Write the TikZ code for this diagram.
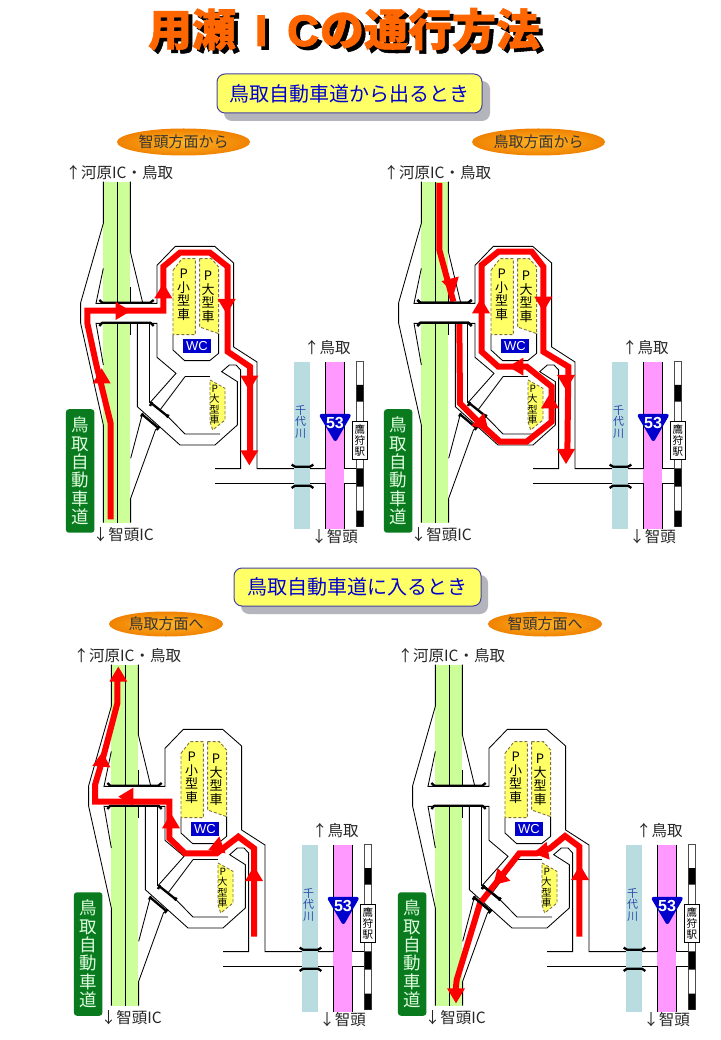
\documentclass[tikz,border=0pt]{standalone}
\usepackage{fontspec}
\setmainfont{Noto Sans CJK JP}
\newfontfamily\latinf{Liberation Sans}
\newfontfamily\latint{Liberation Sans}[BoldFeatures={FakeBold=2.5}]
\newfontfamily\titlef{Noto Sans CJK JP}[BoldFeatures={FakeBold=1.2}]
\usetikzlibrary{shapes.geometric}
\definecolor{hwgreen}{HTML}{CCFF99}
\definecolor{rivercol}{HTML}{B8DCE0}
\definecolor{pinkroad}{HTML}{FF99FF}
\definecolor{parkyel}{HTML}{FFFF66}
\definecolor{dashgray}{HTML}{807040}
\definecolor{routered}{HTML}{FF0000}
\definecolor{dkgreen}{HTML}{0A7A1E}
\definecolor{navy2}{HTML}{0000CC}
\definecolor{titleor}{HTML}{FF6600}
\definecolor{shadowgr}{HTML}{B4B4BC}
\definecolor{boxedge}{HTML}{4444A0}
\definecolor{rivertext}{HTML}{2A4AA8}
\definecolor{bubin}{HTML}{FFB428}
\definecolor{bubout}{HTML}{F08200}
\tikzset{
  panelat/.style 2 args={xshift=#1pt+60pt,yshift=-#2pt-120pt,x=0.33333pt,y=-0.33333pt},
  thinl/.style={draw=black,line width=0.85pt,line join=miter},
  barl/.style={draw=black,line width=2.3pt,line join=round},
  route/.style={draw=routered,line width=6pt,line join=miter},
  lbl/.style={inner sep=0pt,font=\fontsize{15.5}{18}\selectfont,text=black!85},
  vtext/.style={inner sep=0pt,align=center},
  bubble/.style={ellipse,minimum height=#1,inner sep=0pt,inner color=bubin,outer color=bubout,draw=none,font=\fontsize{15}{18}\selectfont,text=black!80},
  headerbox/.style={rounded corners=8pt,fill=parkyel,draw=boxedge,line width=1pt,text=navy2,font=\fontsize{20}{24}\selectfont,inner sep=0pt},
}
\newcommand\rhead[3]{\fill[routered,shift={(#1,#2)},rotate=#3] (0pt,0pt)--(-15pt,9pt)--(-15pt,-9pt)--cycle;}
\newcommand\titletext{用瀬\hspace{19pt}{\latint\bfseries I}\hspace{20pt}{\latint\bfseries C}\hspace{1pt}の通行方法}
\newcommand\overbars{%
  \draw[barl] (118,540)--(127,548)--(271,548)--(281,540);
  \draw[barl] (118,618)--(127,608)--(271,608)--(281,618);}
\newcommand\diagbars{%
  \draw[barl] (272,848)--(322,888);
  \draw[barl] (245,882)--(295,924);
  \draw[barl] (270,858)--(276,846) (320,892)--(326,884);
  \draw[barl] (243,890)--(249,880) (290,930)--(298,920);}
\newcommand\basemap{%
  % expressway
  \fill[hwgreen] (130,185) rectangle (211,1208);
  \fill[white] (100,550) rectangle (290,608);
  \draw[thinl] (171,185)--(171,550) (171,610)--(171,1208);
  \draw[thinl] (130,185)--(130,310)--(62,548)--(62,610)--(130,915)--(130,1208);
  \draw[thinl] (211,185)--(211,395)--(248,548);
  \draw[thinl] (130,445)--(108,550)--(291,550)--(291,436)--(346,379)--(464,379)--(521,429)--(521,681)--(591,726)--(591,1046)--(795,1046);
  \draw[thinl] (211,500)--(211,548);
  \draw[thinl] (130,735)--(108,610)--(291,610)--(291,712)--(348,760)--(270,848);
  \draw[thinl] (211,610)--(211,645);
  \draw[thinl] (232,610)--(232,860)--(360,975)--(465,975)--(532,915)--(532,785)--(485,755)--(508,735)--(528,735)--(542,750)--(542,1046)--(465,1046);
  \draw[thinl] (268,610)--(268,848);
  \draw[thinl] (322,888)--(375,942)--(480,942);
  \draw[thinl] (375,770)--(300,870);
  \draw[thinl] (375,768)--(450,768);
  \draw[thinl] (245,890)--(212,1015);
  \draw[thinl] (287,928)--(212,1135)--(212,1208);
  \draw[thinl] (465,1090)--(795,1090);
  % rest area island
  \draw[thinl] (339,645)--(339,690)--(374,722)--(449,722)--(476,700)--(476,640);
  \filldraw[fill=parkyel,draw=dashgray,line width=0.9pt,dash pattern=on 3pt off 2pt] (339,451)--(366,416)--(406,416)--(406,644)--(339,644)--cycle;
  \filldraw[fill=parkyel,draw=dashgray,line width=0.9pt,dash pattern=on 3pt off 2pt] (419,416)--(454,416)--(476,441)--(476,641)--(419,621)--cycle;
  \filldraw[fill=parkyel,draw=dashgray,line width=0.9pt,dash pattern=on 3pt off 2pt] (450,780)--(495,805)--(495,900)--(458,930)--(450,905)--cycle;
  \node[vtext,font=\fontsize{13}{13.5}\selectfont] (psmall) at (371,525) {P\\小\\型\\車};
  \node[vtext,font=\fontsize{13}{13.5}\selectfont] (plarge) at (444,530) {P\\大\\型\\車};
  \node[vtext,font=\fontsize{10}{10.5}\selectfont] (plarge2) at (464,854) {P\\大\\型\\車};
  \node[fill=navy2,text=white,minimum width=27.5pt,minimum height=14.5pt,inner sep=0pt,font=\latinf\fontsize{13}{13}\selectfont] (wc) at (411,678) {WC};
  % river and national road
  \fill[rivercol] (702,727) rectangle (750,1228);
  \node[vtext,text=rivertext,font=\fontsize{11}{11.5}\selectfont] (river) at (722,905) {千\\代\\川};
  \fill[pinkroad] (796,725) rectangle (853,1228);
  \draw[thinl] (796,725)--(796,1046) (796,1090)--(796,1228);
  \draw[thinl] (853,725)--(853,1046)--(890,1046) (853,1090)--(890,1090) (853,1090)--(853,1228);
  \draw[barl] (695,1034)--(705,1040)--(750,1040)--(760,1034);
  \draw[barl] (695,1104)--(705,1097)--(750,1097)--(760,1104);
  % railway
  \filldraw[fill=white,draw=black!70,line width=0.8pt] (890,725) rectangle (910,1220);
  \fill[black] (890,795) rectangle (910,845) (890,1045) rectangle (910,1100) (890,1172) rectangle (910,1220);
  \node[draw=black,fill=white,line width=0.7pt,minimum width=15pt,minimum height=38pt,inner sep=0pt,align=center,font=\fontsize{10.5}{11}\selectfont] (station) at (899.5,961) {鷹\\狩\\駅};
  % shield
  \filldraw[fill=navy2,draw=navy2,line width=1.5pt,line join=round,rounded corners=2pt] (779,884)--(872,884)--(826,964)--cycle;
  \node[text=white,inner sep=0pt,font=\latinf\bfseries\fontsize{16}{16}\selectfont] (r53) at (825,908) {53};
  % expressway label
  \node[fill=dkgreen,rounded corners=3pt,minimum width=28.5pt,minimum height=123.5pt,inner sep=0pt,align=center,text=white!88!green,font=\fontsize{17.5}{18.4}\selectfont] (exway) at (60.5,1053) {鳥\\取\\自\\動\\車\\道};
  % destinations
  \node[lbl] (north) at (178,158) {↑河原IC・鳥取};
  \node[lbl] (south) at (190,1245) {↓智頭IC};
  \node[lbl] (tot) at (802,684) {↑鳥取};
  \node[lbl] (chi) at (824,1250) {↓智頭};
  \overbars
  \diagbars
}
\begin{document}
\begin{tikzpicture}[x=1pt,y=-1pt]
\useasboundingbox[fill=white] (0,0) rectangle (720,1040);
% title: one node, its black extrusion set behind the orange face
\node[inner sep=0pt,font=\titlef\bfseries\fontsize{44}{44}\selectfont] (title) at (344,31) {%
  \rlap{\raisebox{-3.5pt}{\hspace{4pt}\textcolor{black}{\titletext}}}%
  \textcolor{titleor}{\titletext}};
% headers
\fill[shadowgr,rounded corners=8pt] (224,81) rectangle (490,121);
\node[headerbox,minimum width=265pt,minimum height=39pt] (hdrout) at (349.5,93.5) {鳥取自動車道から出るとき};
\fill[shadowgr,rounded corners=8pt] (241,575) rectangle (488,614);
\node[headerbox,minimum width=247pt,minimum height=38pt] (hdrin) at (357.5,587) {鳥取自動車道に入るとき};
% direction bubbles
\node[bubble=27pt,minimum width=133pt] (b1) at (183.5,142) {智頭方面から};
\node[bubble=27pt,minimum width=133pt] (b2) at (538.5,142) {鳥取方面から};
\node[bubble=25pt,minimum width=114pt] (b3) at (166,624) {鳥取方面へ};
\node[bubble=25pt,minimum width=114pt] (b4) at (545,624) {智頭方面へ};
% panel 1
\begin{scope}[panelat={0}{0}]
  \basemap
  \draw[route] (152,1198)--(152,910)--(108,730)--(82,610)--(82,572)--(310,572)--(310,440)--(360,398)--(450,398)--(503,440)--(503,695)--(570,740)--(570,1000);
  \rhead{125}{745}{90}\rhead{212}{573}{0}\rhead{310}{490}{90}\rhead{500}{582}{-90}\rhead{568}{812}{-90}\rhead{568}{1036}{-90}
\end{scope}
% panel 2
\begin{scope}[panelat={318}{0}]
  \basemap
  \draw[route] (184,189)--(184,390)--(226,545);
  \draw[route] (244,612)--(246,850)--(316,920)--(366,965)--(446,965)--(521,905)--(521,800)--(446,740)--(361,740)--(311,695)--(311,435)--(361,395)--(461,395)--(496,440)--(496,695)--(571,740)--(568,1010);
  \rhead{228}{520}{-75}\rhead{309}{535}{90}\rhead{496}{575}{-90}\rhead{564}{810}{-90}\rhead{564}{1032}{-90}\rhead{391}{740}{180}\rhead{516}{820}{90}\rhead{331}{930}{-45}
  \overbars
\end{scope}
% panel 3
\begin{scope}[panelat={8}{483}]
  \basemap
  \draw[route] (558,1001)--(558,736)--(511,701)--(446,751)--(351,751)--(304,706)--(304,596)--(81,596)--(81,546)--(106,461)--(148,301)--(148,231);
  \rhead{558}{789}{90}\rhead{421}{741}{200}\rhead{309}{631}{90}\rhead{151}{581}{180}\rhead{104}{446}{85}\rhead{151}{191}{90}
\end{scope}
% panel 4
\begin{scope}[panelat={332}{483}]
  \basemap
  \draw[route] (562,1001)--(562,731)--(519,699)--(474,736)--(434,751)--(382,751)--(264,901)--(194,1131)--(191,1161);
  \rhead{564}{786}{90}\rhead{424}{751}{190}\rhead{304}{846}{225}\rhead{192}{1201}{-90}
  \diagbars
\end{scope}
\end{tikzpicture}
\end{document}
